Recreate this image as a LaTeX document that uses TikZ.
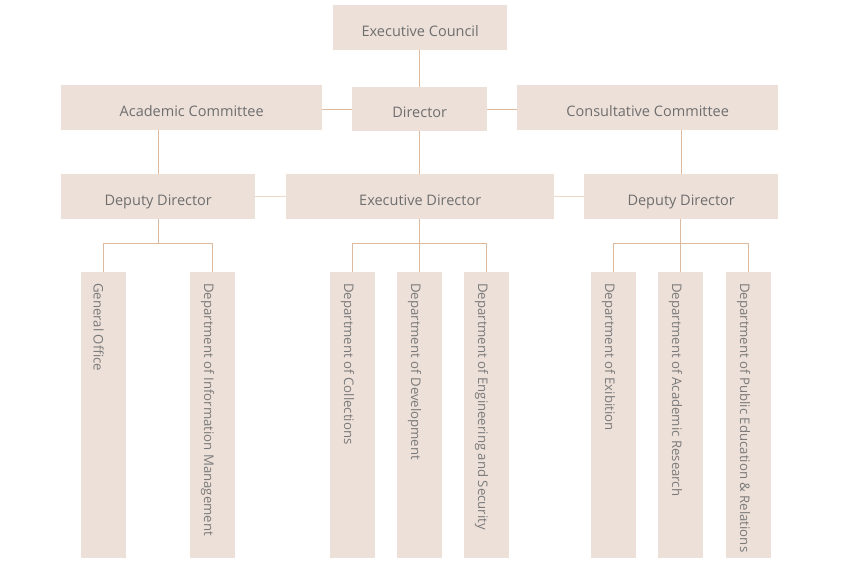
\documentclass[tikz,border=0pt]{standalone}
\usepackage{fontspec}
\setmainfont{Open Sans}
\definecolor{boxfill}{HTML}{EDE0D9}
\definecolor{txt}{HTML}{6E6E6E}
\definecolor{txtl}{HTML}{7A7A7A}
\definecolor{ln}{HTML}{DDB99E}
\definecolor{lnl}{HTML}{EDD8C8}
\tikzset{
  x=1pt, y=-1pt,
  topbox/.style={fill=boxfill, draw=none, inner sep=0pt, anchor=north west, text=txt, text height=17pt, text depth=0pt, font=\fontsize{14.5}{16}\selectfont},
  deptbox/.style={fill=boxfill, draw=none, inner sep=0pt, anchor=north west, minimum width=45pt, minimum height=286pt},
  depttext/.style={rotate=-90, anchor=west, inner sep=0pt, text=txtl, font=\fontsize{13.2}{15}\selectfont},
  conn/.style={draw=ln, line width=0.8pt},
  connl/.style={draw=lnl, line width=0.8pt}
}
\begin{document}
\begin{tikzpicture}
\useasboundingbox (0,0) rectangle (860,560);
% top boxes
\node[topbox, minimum width=174pt, minimum height=45pt] (ec) at (333,5) {Executive Council};
\node[topbox, minimum width=261pt, minimum height=45pt] (ac) at (61,85) {Academic Committee};
\node[topbox, minimum width=135pt, minimum height=44pt] (dir) at (352,87) {Director};
\node[topbox, minimum width=261pt, minimum height=45pt] (cc) at (517,85) {Consultative Committee};
\node[topbox, minimum width=194pt, minimum height=45pt] (ddl) at (61,174) {Deputy Director};
\node[topbox, minimum width=268pt, minimum height=45pt] (ed) at (286,174) {Executive Director};
\node[topbox, minimum width=194pt, minimum height=45pt] (ddr) at (584,174) {Deputy Director};
% department boxes
\node[deptbox] (go) at (81,272) {};
\node[deptbox] (dim) at (190,272) {};
\node[deptbox] (col) at (330,272) {};
\node[deptbox] (dev) at (397,272) {};
\node[deptbox] (eng) at (464,272) {};
\node[deptbox] (exb) at (591,272) {};
\node[deptbox] (ar) at (658,272) {};
\node[deptbox] (pub) at (726,272) {};
% department labels
\foreach \n/\t in {go/General Office, dim/Department of Information Management, col/Department of Collections, dev/Department of Development, eng/Department of Engineering and Security, exb/Department of Exibition, ar/Department of Academic Research, pub/Department of Public Education \& Relations}{
  \node[depttext] (\n-t) at ([xshift=-5pt, yshift=-11pt]\n.north) {\t};
}
% bus level
\coordinate (bus) at (0,243);
% connectors
\draw[conn] (dir.north |- ec.south) -- (dir.north);
\draw[conn] (ac.east |- dir.west) -- (dir.west);
\draw[conn] (dir.east) -- (cc.west |- dir.east);
\draw[conn] (dir.south) -- (ed.north -| dir.south);
\draw[conn] (ac.south -| ddl.north) -- (ddl.north);
\draw[conn] (cc.south -| ddr.north) -- (ddr.north);
\draw[connl] (ddl.east) -- (ed.west);
\draw[connl] (ed.east) -- (ddr.west);
% branch buses
\draw[conn] (ddl.south) -- (ddl.south |- bus);
\draw[conn] (go.north) -- (go.north |- bus) -- (dim.north |- bus) -- (dim.north);
\draw[conn] (ed.south -| dev.north) -- (dev.north);
\draw[conn] (col.north) -- (col.north |- bus) -- (eng.north |- bus) -- (eng.north);
\draw[conn] (ddr.south -| ar.north) -- (ar.north);
\draw[conn] (exb.north) -- (exb.north |- bus) -- (pub.north |- bus) -- (pub.north);
\end{tikzpicture}
\end{document}
